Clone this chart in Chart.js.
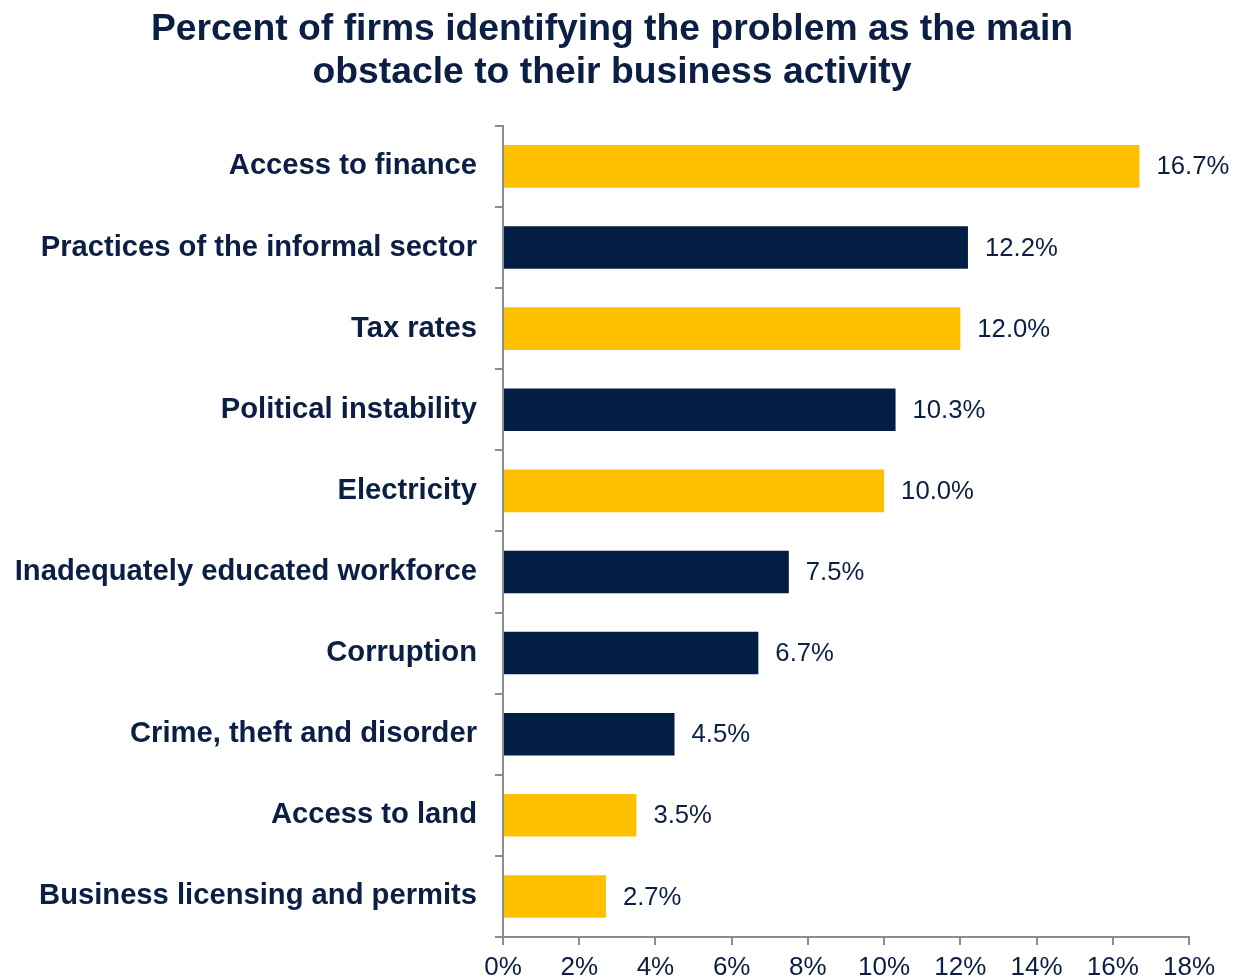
<!DOCTYPE html>
<html>
<head>
<meta charset="utf-8">
<script src="https://cdn.jsdelivr.net/npm/chart.js@4/dist/chart.umd.min.js"></script>
<style>
  html, body { margin: 0; padding: 0; background: #ffffff; }
  #wrap { width: 1235px; height: 980px; }
</style>
</head>
<body>
<div id="wrap"><canvas id="chart" width="1235" height="980"></canvas></div>
<script>
// Survey results: share of firms naming each problem as their main obstacle
const obstacles = [
  'Access to finance',
  'Practices of the informal sector',
  'Tax rates',
  'Political instability',
  'Electricity',
  'Inadequately educated workforce',
  'Corruption',
  'Crime, theft and disorder',
  'Access to land',
  'Business licensing and permits'
];
const sharePct = [16.7, 12.2, 12.0, 10.3, 10.0, 7.5, 6.7, 4.5, 3.5, 2.7];
const highlighted = [true, false, true, false, true, false, false, false, true, true];
const axisTicks = [0, 2, 4, 6, 8, 10, 12, 14, 16, 18];
const titleLines = [
  'Percent of firms identifying the problem as the main',
  'obstacle to their business activity'
];

const GOLD = '#FFC000';
const NAVY = '#031E43';
const TEXT = '#0B1F45';
const AXIS = '#8A8C90';
const FONT = '"Liberation Sans", Arial, Helvetica, sans-serif';

// Writes the percentage just past the end of each bar
const valueLabels = {
  id: 'valueLabels',
  afterDatasetsDraw(chart) {
    const ctx = chart.ctx;
    const meta = chart.getDatasetMeta(0);
    ctx.save();
    ctx.font = '25.7px ' + FONT;
    ctx.fillStyle = TEXT;
    ctx.textAlign = 'left';
    ctx.textBaseline = 'middle';
    meta.data.forEach((bar, i) => {
      ctx.fillText(sharePct[i].toFixed(1) + '%', bar.x + 17, bar.y + 1);
    });
    ctx.restore();
  }
};

new Chart(document.getElementById('chart'), {
  type: 'bar',
  data: {
    labels: obstacles,
    datasets: [{
      data: sharePct,
      backgroundColor: highlighted.map(h => h ? GOLD : NAVY),
      borderWidth: 0,
      categoryPercentage: 1,
      barPercentage: 0.525
    }]
  },
  plugins: [valueLabels],
  options: {
    indexAxis: 'y',
    responsive: false,
    animation: false,
    layout: { padding: { left: 0, right: 11, top: 0, bottom: 0 } },
    plugins: {
      legend: { display: false },
      tooltip: { enabled: false },
      title: {
        display: true,
        text: titleLines,
        color: TEXT,
        font: { family: FONT, size: 37.3, weight: 'bold', lineHeight: 1.15 },
        padding: { top: 8, bottom: 32 }
      }
    },
    scales: {
      x: {
        min: 0,
        max: 18,
        afterBuildTicks(scale) {
          scale.ticks = axisTicks.map(v => ({ value: v }));
        },
        afterFit(scale) {
          scale.height = 43;
          // room on the right for the value label of the longest bar
          scale.paddingRight = 46;
        },
        ticks: {
          color: TEXT,
          font: { family: FONT, size: 26 },
          padding: 7,
          maxRotation: 0,
          callback: v => v + '%'
        },
        grid: {
          drawOnChartArea: false,
          drawTicks: true,
          tickLength: 8,
          color: AXIS,
          lineWidth: 2
        },
        border: { color: AXIS, width: 2 }
      },
      y: {
        afterFit(scale) { scale.width = 503; },
        ticks: {
          color: TEXT,
          font: { family: FONT, size: 29.2, weight: 'bold' },
          padding: 18
        },
        grid: {
          offset: true,
          drawOnChartArea: false,
          drawTicks: true,
          tickLength: 8,
          color: AXIS,
          lineWidth: 2
        },
        border: { color: AXIS, width: 2 }
      }
    }
  }
});
</script>
</body>
</html>
